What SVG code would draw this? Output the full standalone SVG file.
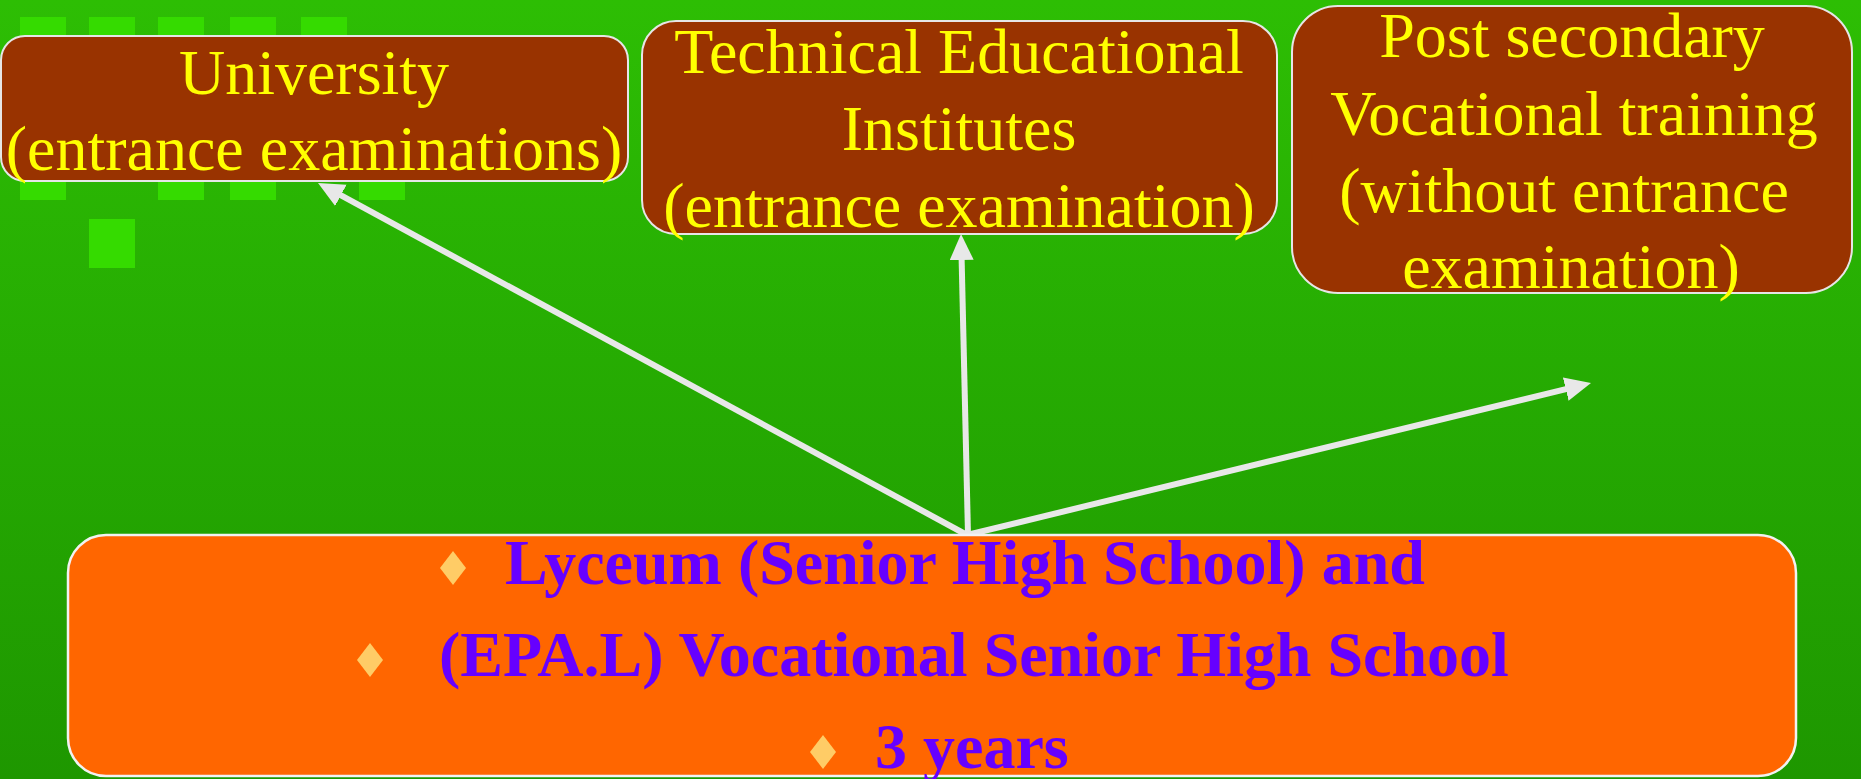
<svg xmlns="http://www.w3.org/2000/svg" width="1861" height="779" viewBox="0 0 1861 779">
<style>
.top{fill:#993300;stroke:#E6E6E6;stroke-width:2}
.bot{fill:#FF6600;stroke:#F2F2F2;stroke-width:2.5}
.yt{font-family:"Liberation Serif","Times New Roman",serif;font-size:64px;fill:#FFFF00;text-anchor:middle}
.pt{font-family:"Liberation Serif","Times New Roman",serif;font-size:64px;font-weight:bold;fill:#6600FF}
.dia{fill:#FFCC66}
.sq{fill:#35DB00}
.conn{stroke:#E8E8E8;stroke-width:6;fill:none;marker-end:url(#ah)}
</style>
<defs>
<linearGradient id="bg" x1="0" y1="0" x2="0" y2="1">
<stop offset="0" stop-color="#2DBE04"/>
<stop offset="1" stop-color="#1E9700"/>
</linearGradient>
<marker id="ah" markerUnits="userSpaceOnUse" markerWidth="28" markerHeight="26" refX="15" refY="12" orient="auto">
<path d="M0,0 L26,12 L0,24 z" fill="#E8E8E8"/>
</marker>
</defs>
<rect x="0" y="0" width="1861" height="779" fill="url(#bg)"/>
<g id="decor">
<rect class="sq" x="20" y="17" width="46" height="45"/>
<rect class="sq" x="89" y="17" width="46" height="45"/>
<rect class="sq" x="158" y="17" width="46" height="45"/>
<rect class="sq" x="230" y="17" width="46" height="45"/>
<rect class="sq" x="301" y="17" width="46" height="45"/>
<rect class="sq" x="20" y="155" width="46" height="45"/>
<rect class="sq" x="158" y="155" width="46" height="45"/>
<rect class="sq" x="230" y="155" width="46" height="45"/>
<rect class="sq" x="359" y="155" width="46" height="45"/>
<rect class="sq" x="89" y="219" width="46" height="49"/>
</g>
<g id="connectors">
<line class="conn" x1="967" y1="535" x2="327.7" y2="188.2"/>
<line class="conn" x1="968" y1="535" x2="961.3" y2="245"/>
<line class="conn" x1="967" y1="535" x2="1580.3" y2="385.6"/>
</g>
<g id="university">
<rect class="top" x="1" y="36" width="627" height="145" rx="24"/>
<text class="yt" x="314" y="94">University</text>
<text class="yt" x="314" y="170">(entrance examinations)</text>
</g>
<g id="technical">
<rect class="top" x="642" y="21" width="635" height="213" rx="34"/>
<text class="yt" x="959" y="73">Technical Educational</text>
<text class="yt" x="959" y="150">Institutes</text>
<text class="yt" x="959" y="227">(entrance examination)</text>
</g>
<g id="postsecondary">
<rect class="top" x="1292" y="6" width="560" height="287" rx="46"/>
<text class="yt" x="1572" y="57">Post secondary</text>
<text class="yt" x="1574" y="135">Vocational training</text>
<text class="yt" x="1564" y="212">(without entrance</text>
<text class="yt" x="1571" y="288">examination)</text>
</g>
<g id="lyceum">
<rect class="bot" x="68" y="535" width="1728" height="241" rx="38"/>
<path class="dia" d="M453,551 L466,568 L453,585 L440,568 z"/>
<text class="pt" x="505" y="584">Lyceum (Senior High School) and</text>
<path class="dia" d="M370,643 L383,660 L370,677 L357,660 z"/>
<text class="pt" x="439" y="676">(EPA.L) Vocational Senior High School</text>
<path class="dia" d="M823,735 L836,752 L823,769 L810,752 z"/>
<text class="pt" x="875" y="768">3 years</text>
</g>
</svg>
